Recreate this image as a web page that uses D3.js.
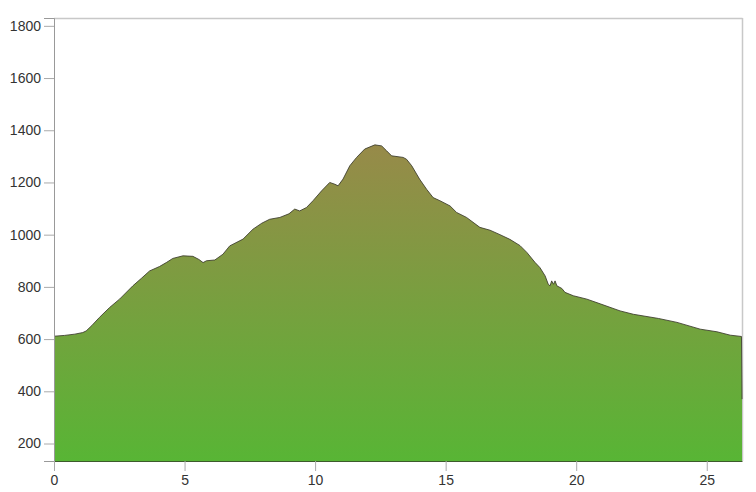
<!DOCTYPE html>
<html>
<head>
<meta charset="utf-8">
<script src="https://cdn.jsdelivr.net/npm/d3@7"></script>
<style>
  html, body { margin: 0; padding: 0; background: #fff; }
  svg { display: block; }
  .tick text { font-family: "Liberation Sans", Arial, sans-serif; font-size: 14px; fill: #333; }
</style>
</head>
<body>
<svg id="chart" width="756" height="492"></svg>
<script>
// Distance along route (km)
const distanceKm = [0.0,0.4,0.8,1.1,1.23,1.45,1.74,2.13,2.51,3.02,3.35,3.66,4.04,4.3,4.55,4.94,5.32,5.55,5.71,5.84,6.16,6.47,6.73,7.24,7.62,7.96,8.26,8.65,9.0,9.22,9.41,9.67,9.92,10.25,10.56,10.76,10.88,11.07,11.33,11.59,11.9,12.29,12.55,12.74,12.93,13.37,13.5,13.7,14.0,14.27,14.52,14.78,15.17,15.42,15.8,16.31,16.7,17.08,17.46,17.85,18.11,18.42,18.61,18.81,18.93,19.0,19.06,19.13,19.19,19.26,19.45,19.57,19.89,20.41,20.92,21.68,22.19,23.15,23.86,24.75,25.39,25.9,26.33,26.35];
// Elevation (m)
const elevationM = [611,614,619,625,631,652,683,721,753,804,833,861,878,893,909,919,917,905,893,900,903,925,957,983,1021,1044,1059,1066,1080,1098,1091,1104,1130,1168,1200,1193,1187,1213,1264,1296,1328,1344,1340,1321,1302,1296,1289,1264,1213,1174,1142,1130,1110,1085,1066,1028,1017,1000,982,958,932,894,874,842,810,804,823,810,823,804,794,779,766,753,735,708,695,679,664,638,628,615,610,370];
const xTicks = [0,5,10,15,20,25];
const yTicks = [200,400,600,800,1000,1200,1400,1600,1800];

const data = distanceKm.map((d, i) => ({ d, e: elevationM[i] }));

const W = 756, H = 492;
const m = { left: 54, right: 14, top: 18, bottom: 31 };
const iw = W - m.left - m.right, ih = H - m.top - m.bottom;

const svg = d3.select("#chart");
const g = svg.append("g").attr("transform", `translate(${m.left},${m.top})`);

const x = d3.scaleLinear().domain([0, 26.35]).range([0, iw]);
const y = d3.scaleLinear().domain([133, 1830]).range([ih, 0]);

const defs = svg.append("defs");
const grad = defs.append("linearGradient")
  .attr("id", "elevGrad").attr("gradientUnits", "userSpaceOnUse")
  .attr("x1", 0).attr("x2", 0)
  .attr("y1", y(d3.max(elevationM))).attr("y2", ih);
grad.append("stop").attr("offset", "0%").attr("stop-color", "#978a49");
grad.append("stop").attr("offset", "100%").attr("stop-color", "#58b535");

// frame (top & right)
g.append("line").attr("x1", 0).attr("x2", iw + 0.5).attr("y1", 0.5).attr("y2", 0.5)
  .attr("stroke", "#c8c8c8").attr("stroke-width", 1.5);
g.append("line").attr("x1", iw + 0.5).attr("x2", iw + 0.5).attr("y1", 0).attr("y2", ih)
  .attr("stroke", "#c8c8c8").attr("stroke-width", 1.5);

const area = d3.area().x(d => x(d.d)).y0(ih).y1(d => y(d.e));
g.append("path").datum(data).attr("d", area).attr("fill", "url(#elevGrad)");

const line = d3.line().x(d => x(d.d)).y(d => y(d.e));
g.append("path").datum(data).attr("d", line)
  .attr("fill", "none").attr("stroke", "#3a3a2a").attr("stroke-width", 1).attr("stroke-opacity", 0.85);

// axes
const yAxis = g.append("g").call(d3.axisLeft(y).tickValues(yTicks).tickSize(10).tickPadding(3).tickFormat(d3.format("d")));
yAxis.select(".domain").attr("stroke", "#999");
yAxis.selectAll(".tick line").attr("stroke", "#aaa");

const xAxis = g.append("g").attr("transform", `translate(0,${ih})`)
  .call(d3.axisBottom(x).tickValues(xTicks).tickSize(10).tickPadding(4).tickSizeOuter(0).tickFormat(d3.format("d")));
xAxis.select(".domain").attr("stroke", "#3d5a2c");
xAxis.selectAll(".tick line").attr("stroke", "#aaa");
</script>
</body>
</html>
